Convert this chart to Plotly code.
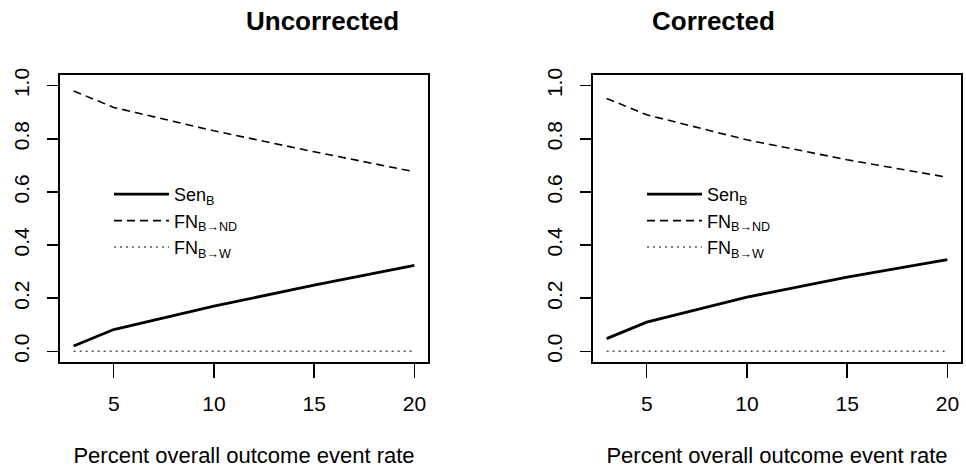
import plotly.graph_objects as go

# ---- data ----
rate = [3, 5, 10, 15, 20]
sen_unc = [0.020, 0.082, 0.170, 0.249, 0.324]
fnnd_unc = [0.980, 0.918, 0.830, 0.751, 0.676]
fnw_unc = [0.0, 0.0, 0.0, 0.0, 0.0]
sen_cor = [0.048, 0.110, 0.204, 0.279, 0.345]
fnnd_cor = [0.952, 0.890, 0.796, 0.721, 0.655]
fnw_cor = [0.0, 0.0, 0.0, 0.0, 0.0]

panel_titles = ["Uncorrected", "Corrected"]
x_label = "Percent overall outcome event rate"
series_names = ["Sen<sub>B</sub>", "FN<sub>B→ND</sub>", "FN<sub>B→W</sub>"]
x_tickvals = [5, 10, 15, 20]
y_tickvals = [0.0, 0.2, 0.4, 0.6, 0.8, 1.0]
y_ticktext = ["0.0", "0.2", "0.4", "0.6", "0.8", "1.0"]

# ---- styles ----
line_styles = [
    dict(color="black", width=2.8, dash="solid"),
    dict(color="black", width=1.6, dash="8px,5px"),
    dict(color="#555555", width=1.5, dash="2px,4px"),
]
FONT = "Liberation Sans, Arial, sans-serif"

fig = go.Figure()
panels = [
    (sen_unc, fnnd_unc, fnw_unc, "x", "y", "legend"),
    (sen_cor, fnnd_cor, fnw_cor, "x2", "y2", "legend2"),
]
for s, f1, f2, xa, ya, lg in panels:
    for name, vals, st in zip(series_names, [s, f1, f2], line_styles):
        fig.add_trace(go.Scatter(
            x=rate, y=vals, mode="lines", name=name, line=st,
            xaxis=xa, yaxis=ya, legend=lg, showlegend=True,
            hoverinfo="skip"))

W, H = 966, 472

def px_x(v):
    return v / W

def px_y(v):
    return 1 - v / H

left_dom = [px_x(60), px_x(428)]
right_dom = [px_x(593), px_x(961)]
y_dom = [px_y(362), px_y(75)]

def xaxis(domain, anchor):
    return dict(
        domain=domain, anchor=anchor, range=[2.32, 20.68],
        tickvals=x_tickvals, ticks="outside", ticklen=14, tickwidth=1.5,
        tickcolor="black", showline=True, linecolor="black", linewidth=2,
        mirror=True, showgrid=False, zeroline=False, automargin=False,
        tickfont=dict(size=21, color="black", family=FONT),
        ticklabelstandoff=8,
        title=dict(text=x_label, font=dict(size=22, color="black", family=FONT),
                   standoff=33),
    )

def yaxis(anchor):
    return dict(
        domain=y_dom, anchor=anchor, range=[-0.04, 1.04],
        tickvals=y_tickvals, ticktext=y_ticktext, tickangle=-90,
        ticks="outside", ticklen=11, tickwidth=1.5, tickcolor="black",
        showline=True, linecolor="black", linewidth=2, mirror=True,
        showgrid=False, zeroline=False, automargin=False,
        tickfont=dict(size=21, color="black", family=FONT),
        ticklabelstandoff=10,
    )

legend_common = dict(
    xanchor="left", yanchor="top", bgcolor="rgba(0,0,0,0)",
    font=dict(size=18, color="black", family=FONT), itemwidth=55,
    itemclick=False, itemdoubleclick=False,
)

fig.update_layout(
    width=W, height=H, margin=dict(l=0, r=0, t=0, b=0),
    paper_bgcolor="white", plot_bgcolor="white",
    font=dict(family=FONT, color="black"),
    xaxis=xaxis(left_dom, "y"), yaxis=yaxis("x"),
    xaxis2=xaxis(right_dom, "y2"), yaxis2=yaxis("x2"),
    legend=dict(x=px_x(109), y=px_y(176), **legend_common),
    legend2=dict(x=px_x(109 + 533), y=px_y(176), **legend_common),
    annotations=[
        dict(text="<b>%s</b>" % panel_titles[0], x=sum(left_dom) / 2, y=px_y(21),
             xref="paper", yref="paper", showarrow=False, yanchor="middle",
             font=dict(size=26, color="black", family=FONT)),
        dict(text="<b>%s</b>" % panel_titles[1], x=sum(right_dom) / 2, y=px_y(21),
             xref="paper", yref="paper", showarrow=False, yanchor="middle",
             font=dict(size=26, color="black", family=FONT)),
    ],
)

# place the figure at the page origin (no default body margin / scrollbars)
fig.write_html(
    "out.html",
    config={"staticPlot": True, "displayModeBar": False},
    post_script="document.body.style.margin='0';"
                "document.body.style.overflow='hidden';",
)
